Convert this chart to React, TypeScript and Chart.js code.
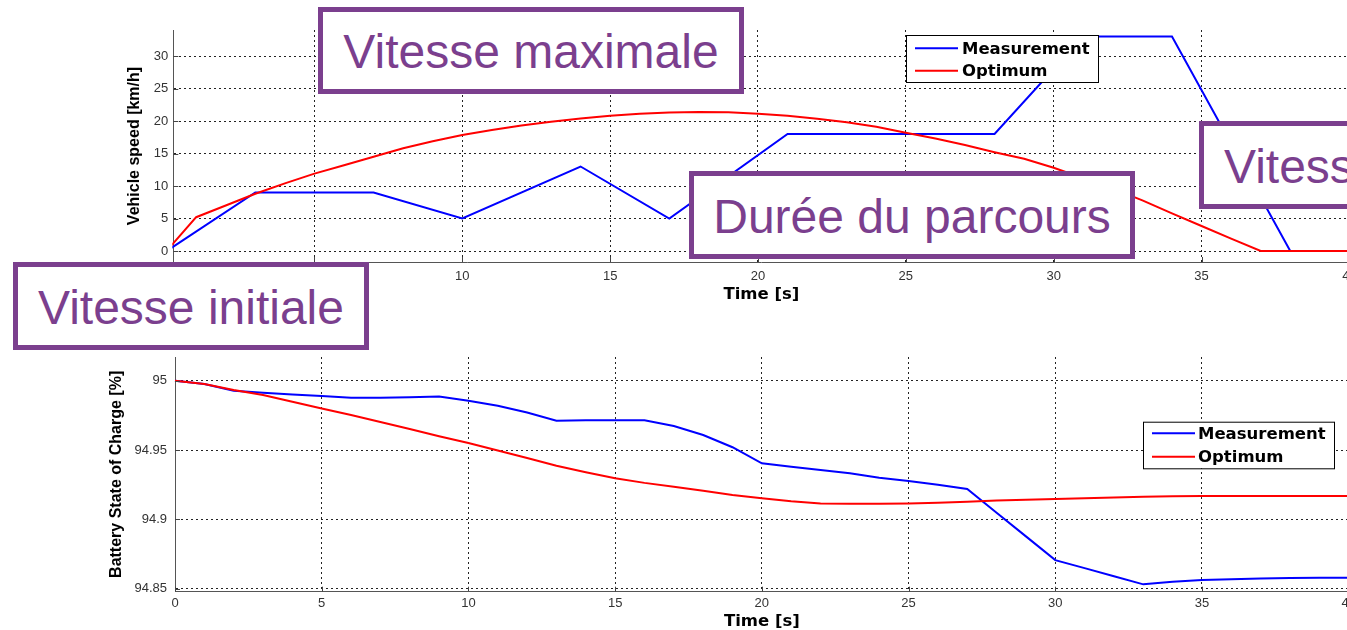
import React, { useEffect, useRef } from 'react';
import { Chart, registerables } from 'chart.js';

Chart.register(...registerables);

// ---- Data -----------------------------------------------------------------

const timeTicks = [0, 5, 10, 15, 20, 25, 30, 35, 40];
const speedTicks = [0, 5, 10, 15, 20, 25, 30];
const socTicks = [94.85, 94.9, 94.95, 95];
const socTickLabels = ['94.85', '94.9', '94.95', '95'];

const seriesLabels = ['Measurement', 'Optimum'];

// Vehicle speed [km/h]
const measuredSpeedTime = [0, 3, 7, 10, 14, 17, 21, 28, 31, 34, 38, 40];
const measuredSpeed = [0, 9, 9, 5, 13, 5, 18, 18, 33, 33, 0, 0];

const optimumSpeedTime = [
  0, 1, 2, 3, 4, 5, 6, 7, 8, 9, 10, 11, 12, 13, 14, 15, 16, 17, 18, 19, 20,
  21, 22, 23, 24, 25, 26, 27, 28, 29, 30, 31, 32, 33, 34, 35, 36, 37, 38, 39, 40,
];
const optimumSpeed = [
  0, 5.2, 7.0, 8.8, 10.4, 11.9, 13.2, 14.5, 15.8, 16.9, 17.85, 18.6, 19.3, 19.9,
  20.4, 20.8, 21.1, 21.3, 21.4, 21.35, 21.1, 20.8, 20.35, 19.8, 19.1, 18.2, 17.3,
  16.3, 15.2, 14.2, 12.8, 11.2, 9.6, 7.8, 5.8, 3.85, 1.9, 0, 0, 0, 0,
];

// Battery state of charge [%]
const socTime = [
  0, 1, 2, 3, 4, 5, 6, 7, 8, 9, 10, 11, 12, 13, 14, 15, 16, 17, 18, 19, 20,
  21, 22, 23, 24, 25, 26, 27, 28, 29, 30, 31, 32, 33, 34, 35, 36, 37, 38, 39, 40,
];
const measuredSoc = [
  95.0, 94.9976, 94.9928, 94.9913, 94.99, 94.989, 94.9877, 94.9877, 94.988,
  94.9886, 94.9855, 94.982, 94.977, 94.9711, 94.9714, 94.9714, 94.9714, 94.9673,
  94.9608, 94.952, 94.9404, 94.938, 94.9356, 94.9332, 94.93, 94.9277, 94.925,
  94.9219, 94.9048, 94.8877, 94.8706, 94.8648, 94.8589, 94.8531, 94.855, 94.8562,
  94.8568, 94.8574, 94.8576, 94.8578, 94.8579,
];
const optimumSoc = [
  95.0, 94.9976, 94.9933, 94.9897, 94.9848, 94.98, 94.9753, 94.9702, 94.9652,
  94.96, 94.955, 94.9496, 94.9442, 94.9387, 94.934, 94.9296, 94.9263, 94.9235,
  94.9206, 94.9175, 94.9152, 94.913, 94.9115, 94.9113, 94.9113, 94.9115, 94.912,
  94.9127, 94.9135, 94.9141, 94.9146, 94.9152, 94.9158, 94.9163, 94.9166,
  94.9168, 94.9168, 94.9168, 94.9168, 94.9168, 94.9168,
];

const calloutTexts = ['Vitesse maximale', 'Vitesse initiale', 'Durée du parcours', 'Vitesse finale'];

// ---- Styling --------------------------------------------------------------

const PURPLE = '#7b3f8e';
const BLUE = '#0000ff';
const RED = '#ff0000';
const TICK_FONT = { family: '"Liberation Sans", Arial, sans-serif', size: 13 };
const X_TITLE_FONT = { family: '"DejaVu Sans", sans-serif', size: 16.5, weight: 'bold' as const };
const Y_TITLE_FONT = { family: '"Liberation Sans", Arial, sans-serif', size: 16, weight: 'bold' as const };

const calloutBoxes = [
  { left: 318, top: 7, width: 426, height: 87, align: 'center' },
  { left: 13, top: 262, width: 356, height: 88, align: 'center' },
  { left: 689, top: 171, width: 446, height: 88, align: 'center' },
  { left: 1199, top: 121, width: 340, height: 88, align: 'left' },
];

const CANVAS_W = 1400;

const toPoints = (xs: number[], ys: number[]) => xs.map((x, i) => ({ x, y: ys[i] }));

// Short solid tick marks pointing into the plot area
const innerTicks = {
  id: 'innerTicks',
  afterDatasetsDraw(chart: any) {
    const { ctx, chartArea, scales } = chart;
    ctx.save();
    ctx.strokeStyle = '#444';
    ctx.lineWidth = 1;
    ctx.setLineDash([]);
    ctx.beginPath();
    scales.x.ticks.forEach((t: any) => {
      const px = Math.round(scales.x.getPixelForValue(t.value)) + 0.5;
      ctx.moveTo(px, chartArea.bottom);
      ctx.lineTo(px, chartArea.bottom - 5);
    });
    scales.y.ticks.forEach((t: any) => {
      const py = Math.round(scales.y.getPixelForValue(t.value)) + 0.5;
      ctx.moveTo(chartArea.left, py);
      ctx.lineTo(chartArea.left + 5, py);
    });
    ctx.stroke();
    ctx.restore();
  },
};

// Boxed legend placed inside the axes
const boxLegend = {
  id: 'boxLegend',
  afterDatasetsDraw(chart: any, _args: any, opts: any) {
    const { ctx } = chart;
    const { x, y, w, h, rows, lineFrom, lineTo, textX } = opts;
    ctx.save();
    ctx.fillStyle = '#ffffff';
    ctx.fillRect(x, y, w, h);
    ctx.strokeStyle = '#000';
    ctx.lineWidth = 1;
    ctx.setLineDash([]);
    ctx.strokeRect(x + 0.5, y + 0.5, w, h);
    ctx.font = 'bold 16.5px "DejaVu Sans", sans-serif';
    ctx.textBaseline = 'middle';
    ctx.textAlign = 'left';
    chart.data.datasets.forEach((ds: any, i: number) => {
      const ry = y + rows[i];
      ctx.strokeStyle = ds.borderColor;
      ctx.lineWidth = 2;
      ctx.beginPath();
      ctx.moveTo(x + lineFrom, ry);
      ctx.lineTo(x + lineTo, ry);
      ctx.stroke();
      ctx.fillStyle = '#000';
      ctx.fillText(ds.label, x + textX, ry + 1);
    });
    ctx.restore();
  },
};

function lineDataset(label: string, color: string, data: { x: number; y: number }[], order: number) {
  return {
    label,
    data,
    borderColor: color,
    backgroundColor: color,
    borderWidth: 2,
    pointRadius: 0,
    tension: 0,
    fill: false,
    clip: 1,
    order,
  };
}

function axisCommon() {
  return {
    grid: { color: '#222', lineWidth: 1, drawTicks: false },
    border: { display: true, color: '#555', width: 1, dash: [2, 3] },
  };
}

function speedConfig(): any {
  return {
    type: 'line',
    data: {
      datasets: [
        lineDataset(seriesLabels[0], BLUE, toPoints(measuredSpeedTime, measuredSpeed), 1),
        lineDataset(seriesLabels[1], RED, toPoints(optimumSpeedTime, optimumSpeed), 0),
      ],
    },
    options: {
      responsive: false,
      animation: false,
      devicePixelRatio: 1,
      events: [],
      layout: { padding: { left: 0, top: 30, right: CANVAS_W - 1349.4, bottom: 0 } },
      plugins: {
        legend: { display: false },
        tooltip: { enabled: false },
        boxLegend: { x: 906, y: 35, w: 192, h: 47, rows: [13.3, 35.7], lineFrom: 9, lineTo: 52, textX: 56 },
      },
      scales: {
        x: {
          type: 'linear',
          min: 0.227,
          max: 40,
          ...axisCommon(),
          afterBuildTicks: (s: any) => {
            s.ticks = timeTicks.filter((v) => v >= s.min).map((v) => ({ value: v }));
          },
          afterFit: (s: any) => {
            s.height = 48;
          },
          ticks: { autoSkip: false, maxRotation: 0, padding: 7, color: '#333', font: TICK_FONT },
          title: { display: true, text: 'Time [s]', color: '#000', font: X_TITLE_FONT, padding: { top: 0, bottom: 5.4 } },
        },
        y: {
          type: 'linear',
          min: -1.69,
          max: 34,
          ...axisCommon(),
          afterBuildTicks: (s: any) => {
            s.ticks = speedTicks.map((v) => ({ value: v }));
          },
          afterFit: (s: any) => {
            s.width = 173.3;
          },
          ticks: { autoSkip: false, padding: 5, color: '#333', font: TICK_FONT },
          title: { display: true, text: 'Vehicle speed [km/h]', color: '#000', font: Y_TITLE_FONT, padding: { top: 125.4, bottom: 0 } },
        },
      },
    },
    plugins: [innerTicks, boxLegend],
  };
}

function socConfig(): any {
  return {
    type: 'line',
    data: {
      datasets: [
        lineDataset(seriesLabels[0], BLUE, toPoints(socTime, measuredSoc), 1),
        lineDataset(seriesLabels[1], RED, toPoints(socTime, optimumSoc), 0),
      ],
    },
    options: {
      responsive: false,
      animation: false,
      devicePixelRatio: 1,
      events: [],
      layout: { padding: { left: 0, top: 52, right: CANVAS_W - 1348.7, bottom: 0 } },
      plugins: {
        legend: { display: false },
        tooltip: { enabled: false },
        boxLegend: { x: 1143, y: 116.7, w: 191, h: 46.6, rows: [11.6, 35], lineFrom: 9, lineTo: 52, textX: 55 },
      },
      scales: {
        x: {
          type: 'linear',
          min: 0,
          max: 40,
          ...axisCommon(),
          afterBuildTicks: (s: any) => {
            s.ticks = timeTicks.map((v) => ({ value: v }));
          },
          afterFit: (s: any) => {
            s.height = 40.3;
          },
          ticks: { autoSkip: false, maxRotation: 0, padding: 4, color: '#333', font: TICK_FONT },
          title: { display: true, text: 'Time [s]', color: '#000', font: X_TITLE_FONT, padding: { top: 0, bottom: 0.1 } },
        },
        y: {
          type: 'linear',
          min: 94.8478,
          max: 95.0171,
          ...axisCommon(),
          afterBuildTicks: (s: any) => {
            s.ticks = socTicks.map((v) => ({ value: v }));
          },
          afterFit: (s: any) => {
            s.width = 175;
          },
          ticks: {
            autoSkip: false,
            padding: 8,
            color: '#333',
            font: TICK_FONT,
            callback: (_v: any, i: number) => socTickLabels[i],
          },
          title: { display: true, text: 'Battery State of Charge [%]', color: '#000', font: Y_TITLE_FONT, padding: { top: 107.1, bottom: 0 } },
        },
      },
    },
    plugins: [innerTicks, boxLegend],
  };
}

function ChartCanvas({ top, height, make }: { top: number; height: number; make: () => any }) {
  const ref = useRef<HTMLCanvasElement>(null);
  useEffect(() => {
    const chart = new Chart(ref.current as HTMLCanvasElement, make());
    return () => chart.destroy();
  }, [make]);
  return (
    <canvas
      ref={ref}
      width={CANVAS_W}
      height={height}
      style={{ position: 'absolute', left: 0, top, width: CANVAS_W, height, display: 'block' }}
    />
  );
}

export default function App() {
  return (
    <div
      style={{
        position: 'absolute',
        left: 0,
        top: 0,
        width: 1347,
        height: 630,
        overflow: 'hidden',
        background: '#ffffff',
      }}
    >
      <ChartCanvas top={0} height={310} make={speedConfig} />
      <ChartCanvas top={305} height={327} make={socConfig} />
      {calloutTexts.map((text, i) => {
        const b = calloutBoxes[i];
        return (
          <div
            key={text}
            style={{
              position: 'absolute',
              left: b.left,
              top: b.top,
              width: b.width,
              height: b.height,
              boxSizing: 'border-box',
              border: `5px solid ${PURPLE}`,
              background: '#ffffff',
              display: 'flex',
              alignItems: 'center',
              justifyContent: b.align === 'center' ? 'center' : 'flex-start',
              paddingLeft: b.align === 'center' ? 0 : 20,
              paddingTop: 3,
              color: PURPLE,
              fontFamily: '"Liberation Sans", Arial, sans-serif',
              fontSize: 48,
              lineHeight: 1,
              whiteSpace: 'nowrap',
            }}
          >
            {text}
          </div>
        );
      })}
    </div>
  );
}
